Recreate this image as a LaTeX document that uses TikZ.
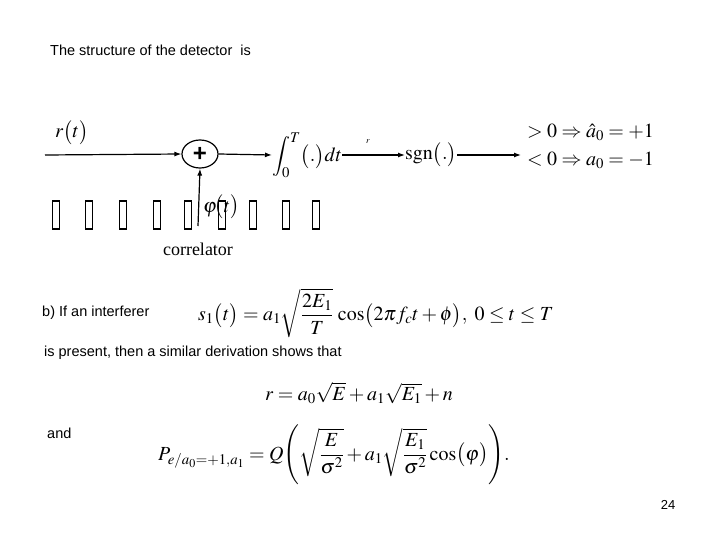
\documentclass[tikz,border=0pt]{standalone}
\usepackage{amsmath,amssymb}
\usepackage{mathptmx}
\usepackage{fontspec}
\newfontfamily\slide{Liberation Sans}
\setmainfont{Liberation Serif}
\usetikzlibrary{arrows.meta,shapes.geometric}
\tikzset{
 txt/.style={anchor=west,inner sep=0pt,font=\slide\fontsize{14.5}{16}\selectfont},
 mth/.style={inner sep=0pt,font=\fontsize{20}{24}\selectfont},
 arr/.style={-{Latex[length=7pt,width=5pt]},line width=1.2pt},
 gbox/.style={draw,line width=1.3pt,minimum width=7pt,minimum height=28pt,inner sep=0pt}
}
\begin{document}
\begin{tikzpicture}[x=1pt,y=-1pt]
\useasboundingbox (0,0) rectangle (720,540);
\node[txt] (title) at (50,50) {The structure of the detector\ \ is};
\node[mth,anchor=west] (r) at (55,133) {$r\big(t\big)$};
\coordinate (in) at (45,155);
\node[draw,ellipse,line width=1.2pt,minimum width=36pt,minimum height=28pt,inner sep=0pt,font=\slide\bfseries\fontsize{24}{24}\selectfont] (sum) at (200,154) {+};
\node[mth,anchor=west] (int) at (272,155) {$\displaystyle\int_0^T\!\big(.\big)dt$};
\node[mth,anchor=west] (sgn) at (405,155) {$\mathrm{sgn}\big(.\big)$};
\node[inner sep=0pt,font=\fontsize{9}{9}\selectfont] (rr) at (368,142) {$r$};
\node[mth,anchor=west,align=left] (dec) at (527,146) {$>0\Rightarrow \hat a_{0}=+1$\\[4pt]$<0\Rightarrow a_{0}=-1$};
\draw[arr] (in) -- (sum.west);
\draw[arr] (sum.east) -- (int.west);
\draw[arr] (int.east) -- (sgn.west);
\draw[arr] (sgn.east) -- (521,155);
\coordinate (phib) at (198,226);
\draw[arr] (phib) -- (sum.south);
\foreach \i/\x in {1/56,2/89,3/123,4/157,5/188,6/222,7/253,8/286,9/316}
  \node[gbox] (g\i) at (\x,215) {};
\node[mth,anchor=west,inner sep=0pt] (phi) at (203,207) {$\varphi\!\big(t\big)$};
\node[inner sep=0pt,font=\fontsize{18}{20}\selectfont] (corr) at (198,249) {correlator};
\node[txt] (b) at (42,313) {b) If an interferer};
\node[mth,anchor=west] (s1) at (198,313) {$s_1\big(t\big)=a_1\sqrt{\dfrac{2E_1}{T}}\,\cos\!\big(2\pi f_c t+\phi\big),\ 0\le t\le T$};
\node[txt] (pres) at (44,353) {is present, then a similar derivation shows that};
\node[mth,anchor=west] (req) at (265,393) {$r=a_0\sqrt{E}+a_1\sqrt{E_1}+n$};
\node[txt] (and) at (47,433) {and};
\node[mth,anchor=west] (P) at (158,455) {$P_{e/a_0=+1,a_1}=Q\Bigg(\sqrt{\dfrac{E}{\sigma^2}}+a_1\sqrt{\dfrac{E_1}{\sigma^2}}\cos\!\big(\varphi\big)\Bigg).$};
\node[txt,anchor=center,font=\slide\fontsize{13}{14}\selectfont] (pg) at (668,505) {24};
\end{tikzpicture}
\end{document}
